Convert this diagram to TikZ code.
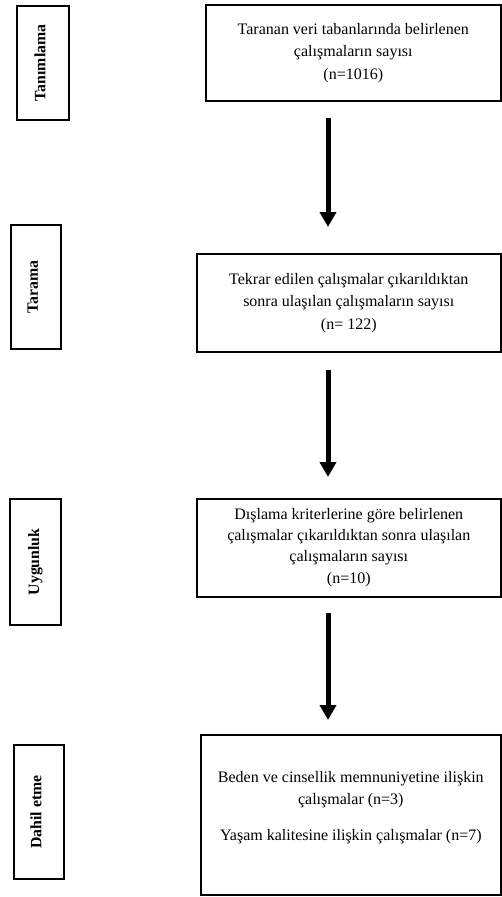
\documentclass[tikz,border=0pt]{standalone}
\usepackage{fontspec}
\setmainfont{Liberation Serif}
\usetikzlibrary{arrows.meta}
\begin{document}
\begin{tikzpicture}[x=1pt,y=-1pt,
  sidebox/.style={draw,line width=1.8pt,inner sep=0pt,anchor=north west},
  mainbox/.style={draw,line width=1.6pt,inner sep=0pt,anchor=north west},
  sidetext/.style={rotate=90,font=\fontsize{15.8}{18}\selectfont\bfseries},
  maintext/.style={align=center,font=\fontsize{16}{22.5}\selectfont,inner sep=0pt},
  flowarrow/.style={line width=5pt,-{Triangle[width=16pt,length=15pt]}}]
\useasboundingbox (0,0) rectangle (502,897);
% side boxes
\node[sidebox,minimum width=52pt,minimum height=114pt] (s1) at (16,5) {};
\node[sidetext] (t1) at ([xshift=-3pt]s1.center) {Tanımlama};
\node[sidebox,minimum width=50pt,minimum height=124pt] (s2) at (10,224) {};
\node[sidetext] (t2) at ([xshift=-3pt]s2.center) {Tarama};
\node[sidebox,minimum width=51pt,minimum height=126pt] (s3) at (9,498) {};
\node[sidetext] (t3) at (s3.center) {Uygunluk};
\node[sidebox,minimum width=50pt,minimum height=134pt] (s4) at (13,744) {};
\node[sidetext] (t4) at ([xshift=-3pt]s4.center) {Dahil etme};
% main boxes
\node[mainbox,minimum width=295pt,minimum height=96pt] (b1) at (205,4) {};
\node[maintext] (m1) at (b1.center) {Taranan veri tabanlarında belirlenen\\çalışmaların sayısı\\(n=1016)};
\node[mainbox,minimum width=304pt,minimum height=98pt] (b2) at (196,253) {};
\node[maintext] (m2) at (b2.center) {Tekrar edilen çalışmalar çıkarıldıktan\\sonra ulaşılan çalışmaların sayısı\\(n= 122)};
\node[mainbox,minimum width=304pt,minimum height=98pt] (b3) at (196,498) {};
\node[maintext,anchor=north,font=\fontsize{16}{21.3}\selectfont] (m3) at ([yshift=-10pt]b3.north) {Dışlama kriterlerine göre belirlenen\\çalışmalar çıkarıldıktan sonra ulaşılan\\çalışmaların sayısı\\(n=10)};
\node[mainbox,minimum width=300pt,minimum height=160pt] (b4) at (200,734) {};
\node[maintext,anchor=north] (m4) at ([yshift=-37pt]b4.north) {Beden ve cinsellik memnuniyetine ilişkin\\çalışmalar (n=3)\\[13pt]Yaşam kalitesine ilişkin çalışmalar (n=7)};
% arrows
\coordinate (a1s) at (328,118);
\coordinate (a1e) at (328,227);
\coordinate (a2s) at (328,370);
\coordinate (a2e) at (328,477);
\coordinate (a3s) at (328,613);
\coordinate (a3e) at (328,720);
\draw[flowarrow] (a1s) -- (a1e);
\draw[flowarrow] (a2s) -- (a2e);
\draw[flowarrow] (a3s) -- (a3e);
\end{tikzpicture}
\end{document}
